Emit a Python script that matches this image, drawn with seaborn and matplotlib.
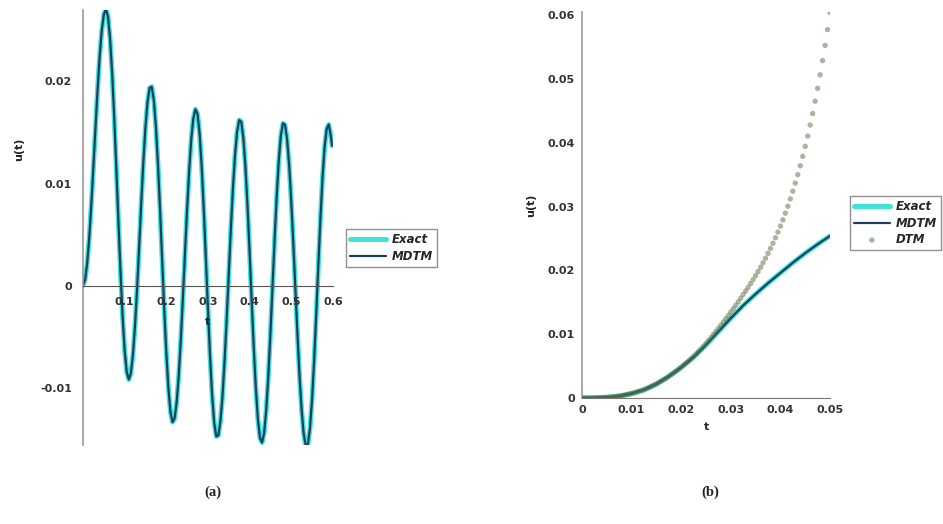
# -*- coding: utf-8 -*-
import matplotlib
matplotlib.use('Agg')
import matplotlib.pyplot as plt
import seaborn as sns

# ---------------- data ----------------
# (a) u(t) over 0 <= t <= 0.6, Exact and MDTM coincide
t_a = [0.000, 0.005, 0.010, 0.015, 0.020, 0.025, 0.030, 0.035, 0.040, 0.045,
       0.050, 0.055, 0.060, 0.065, 0.070, 0.075, 0.080, 0.085, 0.090, 0.095,
       0.100, 0.105, 0.110, 0.115, 0.120, 0.125, 0.130, 0.135, 0.140, 0.145,
       0.150, 0.155, 0.160, 0.165, 0.170, 0.175, 0.180, 0.185, 0.190, 0.195,
       0.200, 0.205, 0.210, 0.215, 0.220, 0.225, 0.230, 0.235, 0.240, 0.245,
       0.250, 0.255, 0.260, 0.265, 0.270, 0.275, 0.280, 0.285, 0.290, 0.295,
       0.300, 0.305, 0.310, 0.315, 0.320, 0.325, 0.330, 0.335, 0.340, 0.345,
       0.350, 0.355, 0.360, 0.365, 0.370, 0.375, 0.380, 0.385, 0.390, 0.395,
       0.400, 0.405, 0.410, 0.415, 0.420, 0.425, 0.430, 0.435, 0.440, 0.445,
       0.450, 0.455, 0.460, 0.465, 0.470, 0.475, 0.480, 0.485, 0.490, 0.495,
       0.500, 0.505, 0.510, 0.515, 0.520, 0.525, 0.530, 0.535, 0.540, 0.545,
       0.550, 0.555, 0.560, 0.565, 0.570, 0.575, 0.580, 0.585, 0.590, 0.595,
       0.598]
exact_a = [0.0, 0.00056, 0.00215, 0.00468, 0.00793, 0.01162, 0.01547, 0.01917, 0.02243, 0.02495,
           0.02654, 0.0271, 0.02636, 0.02421, 0.02084, 0.01648, 0.01153, 0.00637, 0.00142, -0.00294,
           -0.00631, -0.00846, -0.0092, -0.00857, -0.00674, -0.00389, -0.00022, 0.00392, 0.00817, 0.01216,
           0.01552, 0.0180, 0.01937, 0.01948, 0.0182, 0.01559, 0.01191, 0.00746, 0.0026, -0.0022,
           -0.00652, -0.0100, -0.01236, -0.01337, -0.0130, -0.01141, -0.00875, -0.0052, -0.0011, 0.00325,
           0.00752, 0.01131, 0.01437, 0.01641, 0.01727, 0.01682, 0.01489, 0.01168, 0.00746, 0.00268,
           -0.00226, -0.00685, -0.0107, -0.01342, -0.01477, -0.01467, -0.01329, -0.0108, -0.00735, -0.00326,
           0.00114, 0.00552, 0.00951, 0.01277, 0.01507, 0.01621, 0.01605, 0.01448, 0.01166, 0.00782,
           0.0033, -0.00145, -0.00605, -0.01006, -0.0131, -0.01494, -0.01537, -0.01441, -0.01217, -0.00885,
           -0.00474, -0.00017, 0.00444, 0.00868, 0.01218, 0.01467, 0.01589, 0.01576, 0.01436, 0.01182,
           0.0083, 0.00414, -0.00035, -0.00481, -0.00888, -0.01221, -0.01454, -0.0157, -0.01555, -0.01398,
           -0.01117, -0.00735, -0.00284, 0.0019, 0.00648, 0.01048, 0.01351, 0.01534, 0.01578, 0.0147,
           0.0137]
mdtm_a = list(exact_a)   # lies right on top of Exact

# (b) u(t) over 0 <= t <= 0.05
t_b = [0.0, 0.0025, 0.005, 0.0075, 0.01, 0.0125, 0.015, 0.0175, 0.02, 0.0225,
       0.025, 0.0275, 0.03, 0.0325, 0.035, 0.0375, 0.04, 0.0425, 0.045, 0.0475, 0.05]
exact_b = [0.0, 0.00002, 0.0001, 0.0003, 0.0007, 0.0013, 0.0022, 0.0034, 0.0048, 0.0064,
           0.0083, 0.0104, 0.0125, 0.0145, 0.0163, 0.0180, 0.0196, 0.0212, 0.0227, 0.0241, 0.0254]
mdtm_b = list(exact_b)

t_dtm = [0.0, 0.0005, 0.001, 0.0015, 0.002, 0.0025, 0.003, 0.0035, 0.004, 0.0045,
         0.005, 0.0055, 0.006, 0.0065, 0.007, 0.0075, 0.008, 0.0085, 0.009, 0.0095,
         0.01, 0.0105, 0.011, 0.0115, 0.012, 0.0125, 0.013, 0.0135, 0.014, 0.0145,
         0.015, 0.0155, 0.016, 0.0165, 0.017, 0.0175, 0.018, 0.0185, 0.019, 0.0195,
         0.02, 0.0205, 0.021, 0.0215, 0.022, 0.0225, 0.023, 0.0235, 0.024, 0.0245,
         0.025, 0.0255, 0.026, 0.0265, 0.027, 0.0275, 0.028, 0.0285, 0.029, 0.0295,
         0.03, 0.0305, 0.031, 0.0315, 0.032, 0.0325, 0.033, 0.0335, 0.034, 0.0345,
         0.035, 0.0355, 0.036, 0.0365, 0.037, 0.0375, 0.038, 0.0385, 0.039, 0.0395,
         0.04, 0.0405, 0.041, 0.0415, 0.042, 0.0425, 0.043, 0.0435, 0.044, 0.0445,
         0.045, 0.0455, 0.046, 0.0465, 0.047, 0.0475, 0.048, 0.0485, 0.049, 0.0495,
         0.05]
dtm_b = [0.0, 0.0, 0.0, 0.00001, 0.00001, 0.00002, 0.00003, 0.00004, 0.00006, 0.00008,
         0.0001, 0.00013, 0.00016, 0.0002, 0.00025, 0.0003, 0.00037, 0.00045, 0.00052, 0.0006,
         0.0007, 0.0008, 0.00091, 0.00103, 0.00116, 0.0013, 0.00146, 0.00163, 0.00181, 0.002,
         0.0022, 0.00242, 0.00264, 0.00287, 0.00312, 0.0034, 0.00366, 0.00393, 0.00421, 0.0045,
         0.00486, 0.00517, 0.00549, 0.00583, 0.00617, 0.00653, 0.00691, 0.00731, 0.0077, 0.00813,
         0.00857, 0.00902, 0.00949, 0.00996, 0.01044, 0.01093, 0.01142, 0.01192, 0.01243, 0.01295,
         0.01348, 0.014, 0.01453, 0.01508, 0.01564, 0.01622, 0.01678, 0.01735, 0.01794, 0.01855,
         0.01918, 0.01982, 0.02049, 0.02118, 0.02191, 0.02267, 0.02345, 0.02426, 0.02511, 0.026,
         0.02694, 0.02792, 0.02896, 0.03005, 0.03121, 0.03242, 0.03368, 0.035, 0.0364, 0.03787,
         0.03944, 0.04106, 0.04278, 0.04459, 0.04652, 0.04853, 0.05066, 0.05289, 0.05526, 0.05775,
         0.0604]

xticks_a = [0.1, 0.2, 0.3, 0.4, 0.5, 0.6]
yticks_a = [-0.01, 0, 0.01, 0.02]
xticks_b = [0, 0.01, 0.02, 0.03, 0.04, 0.05]
yticks_b = [0, 0.01, 0.02, 0.03, 0.04, 0.05, 0.06]

CYAN = '#3fe3dc'
NAVY = '#1d3f5e'
DOTS = '#5a6a40'

sns.set_style('white')
plt.rcParams['font.family'] = ['DejaVu Sans']

fig = plt.figure(figsize=(9.43, 5.24), dpi=100)
ax1 = fig.add_axes([0.088, 0.151, 0.265, 0.830])
ax2 = fig.add_axes([0.6172, 0.2405, 0.263, 0.7366])

tick_font = dict(fontsize=8, fontweight='bold', color='#333333')
leg_font = dict(size=8.5, weight='bold', style='italic')
leg_kw = dict(loc='upper left', bbox_transform=fig.transFigure, borderaxespad=0,
              prop=leg_font, frameon=True, fancybox=False, edgecolor='#777777',
              handlelength=3.0, handletextpad=0.5, borderpad=0.35, labelspacing=0.3)

# -------- (a) --------
sns.lineplot(x=t_a, y=exact_a, ax=ax1, color=CYAN, lw=3.6, label='Exact',
             sort=False, estimator=None)
sns.lineplot(x=t_a, y=mdtm_a, ax=ax1, color=NAVY, lw=1.6, label='MDTM',
             sort=False, estimator=None)
ax1.set_axisbelow(False)
ax1.set_xlim(0, 0.6)
ax1.set_ylim(-0.0156, 0.027)
ax1.spines['top'].set_visible(False)
ax1.spines['right'].set_visible(False)
ax1.spines['bottom'].set_position(('data', 0))
ax1.spines['bottom'].set_color('#555555')
ax1.spines['left'].set_color('#9a9a9a')
ax1.spines['left'].set_linewidth(1.2)
ax1.set_xticks(xticks_a)
ax1.set_xticklabels([f'{v:g}' for v in xticks_a], **tick_font)
ax1.set_yticks(yticks_a)
ax1.set_yticklabels([f'{v:g}' for v in yticks_a], **tick_font)
ax1.tick_params(length=0, pad=8)
ax1.text(0.3, -0.0036, 't', ha='center', va='center', fontsize=8,
         fontweight='bold', zorder=10)
ax1.set_ylabel('u(t)', fontsize=8, fontweight='bold')
ax1.yaxis.set_label_coords(-0.235, 0.68)
h, l = ax1.get_legend_handles_labels()
ax1.legend(h, l, bbox_to_anchor=(346 / 943, 1 - 229 / 524), **leg_kw)

# -------- (b) --------
sns.lineplot(x=t_b, y=exact_b, ax=ax2, color=CYAN, lw=3.6, label='Exact',
             sort=False, estimator=None)
sns.lineplot(x=t_b, y=mdtm_b, ax=ax2, color=NAVY, lw=1.6, label='MDTM',
             sort=False, estimator=None)
sns.scatterplot(x=t_dtm, y=dtm_b, ax=ax2, color=DOTS, s=15, edgecolor='none',
                alpha=0.5, label='DTM', zorder=4)
ax2.set_xlim(0, 0.05)
ax2.set_ylim(0, 0.0605)
ax2.spines['top'].set_visible(False)
ax2.spines['right'].set_visible(False)
ax2.spines['bottom'].set_color('#777777')
ax2.spines['left'].set_color('#9a9a9a')
ax2.spines['left'].set_linewidth(1.2)
ax2.set_xticks(xticks_b)
ax2.set_xticklabels([f'{v:g}' for v in xticks_b], **tick_font)
ax2.set_yticks(yticks_b)
ax2.set_yticklabels([f'{v:g}' for v in yticks_b], **tick_font)
ax2.tick_params(length=0, pad=5)
ax2.set_xlabel('t', fontsize=8, fontweight='bold', labelpad=5)
ax2.set_ylabel('u(t)', fontsize=8, fontweight='bold', labelpad=8)
h, l = ax2.get_legend_handles_labels()
ax2.legend(h, l, bbox_to_anchor=(850 / 943, 1 - 196 / 524), **leg_kw)

# panel captions
fig.text(213 / 943, 1 - 492 / 524, '(a)', ha='center', va='center',
         fontsize=10.5, fontweight='bold', family='Liberation Serif')
fig.text(710 / 943, 1 - 492 / 524, '(b)', ha='center', va='center',
         fontsize=10.5, fontweight='bold', family='Liberation Serif')

plt.savefig('out.png', dpi=100)
